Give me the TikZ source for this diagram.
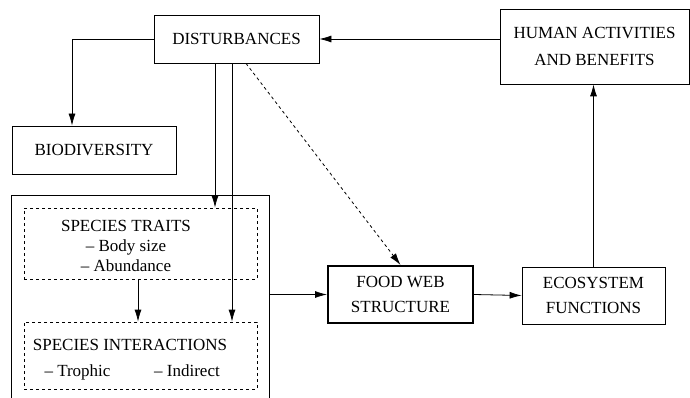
\documentclass[tikz,border=0pt]{standalone}
\usepackage{fontspec}
\setmainfont{Liberation Serif}
\usetikzlibrary{arrows.meta}

\tikzset{
  box/.style={draw, line width=0.8pt, inner sep=0pt, align=center,
    font=\fontsize{17}{20}\selectfont},
  dbox/.style={draw, dashed, line width=0.8pt, inner sep=0pt},
  txt/.style={inner sep=0pt, align=center, font=\fontsize{17}{20}\selectfont},
  arr/.style={-{Latex[length=12pt,width=7pt]}, line width=0.8pt}
}

\begin{document}
\begin{tikzpicture}[x=1pt,y=-1pt]

  \useasboundingbox (0,0) rectangle (690,398);
  \clip (0,0) rectangle (690,398);

  % top row
  \node[box, minimum width=165pt, minimum height=48pt] (dist) at (236.5,39) {DISTURBANCES};
  \node[box, minimum width=189pt, minimum height=75pt] (human) at (594.5,46.5)
    {HUMAN ACTIVITIES\\[7pt]AND BENEFITS};
  \node[box, minimum width=164pt, minimum height=48pt] (bio) at (94,150) {BIODIVERSITY};

  % species box, open at the bottom
  \node[draw, line width=0.8pt, minimum width=258pt, minimum height=230pt] (group) at (140,310) {};
  \node[dbox, minimum width=233pt, minimum height=71pt] (traits) at (140.5,243.5) {};
  \node[txt] (traitstext) at (126,246.4) {SPECIES TRAITS\\-- Body size\\-- Abundance};
  \node[dbox, minimum width=233pt, minimum height=67pt] (inter) at (140.5,355.5) {};
  \node[txt, anchor=base] (intertext) at (130,350) {SPECIES INTERACTIONS};
  \node[txt, anchor=base] (trophic) at (77.5,376) {-- Trophic};
  \node[txt, anchor=base] (indirect) at (187,376) {-- Indirect};

  % right part
  \node[box, line width=2pt, minimum width=145pt, minimum height=57pt] (food) at (400.5,294.5)
    {FOOD WEB\\[5pt]STRUCTURE};
  \node[box, minimum width=143pt, minimum height=57pt] (eco) at (593.5,295.5)
    {ECOSYSTEM\\[5pt]FUNCTIONS};

  % connectors
  \draw[arr] (dist.west) -| ([xshift=-22pt]bio.north);
  \draw[arr] (human.west |- dist.east) -- (dist.east);
  \draw[arr] (eco.north) -- (eco.north |- human.south);
  \draw[arr] ([xshift=-21.5pt]dist.south) -- ([xshift=-21.5pt]dist.south |- traits.north);
  \draw[arr] ([xshift=-4.5pt]dist.south) -- ([xshift=-4.5pt]dist.south |- inter.north);
  \draw[arr, dashed] ([xshift=9.5pt]dist.south) -- (food.north);
  \draw[arr] ([xshift=-2.5pt]traits.south) -- ([xshift=-2.5pt]inter.north);
  \draw[arr] (group.east |- food.west) -- (food.west);
  \draw[arr] (food.east) -- (eco.west);

\end{tikzpicture}
\end{document}
